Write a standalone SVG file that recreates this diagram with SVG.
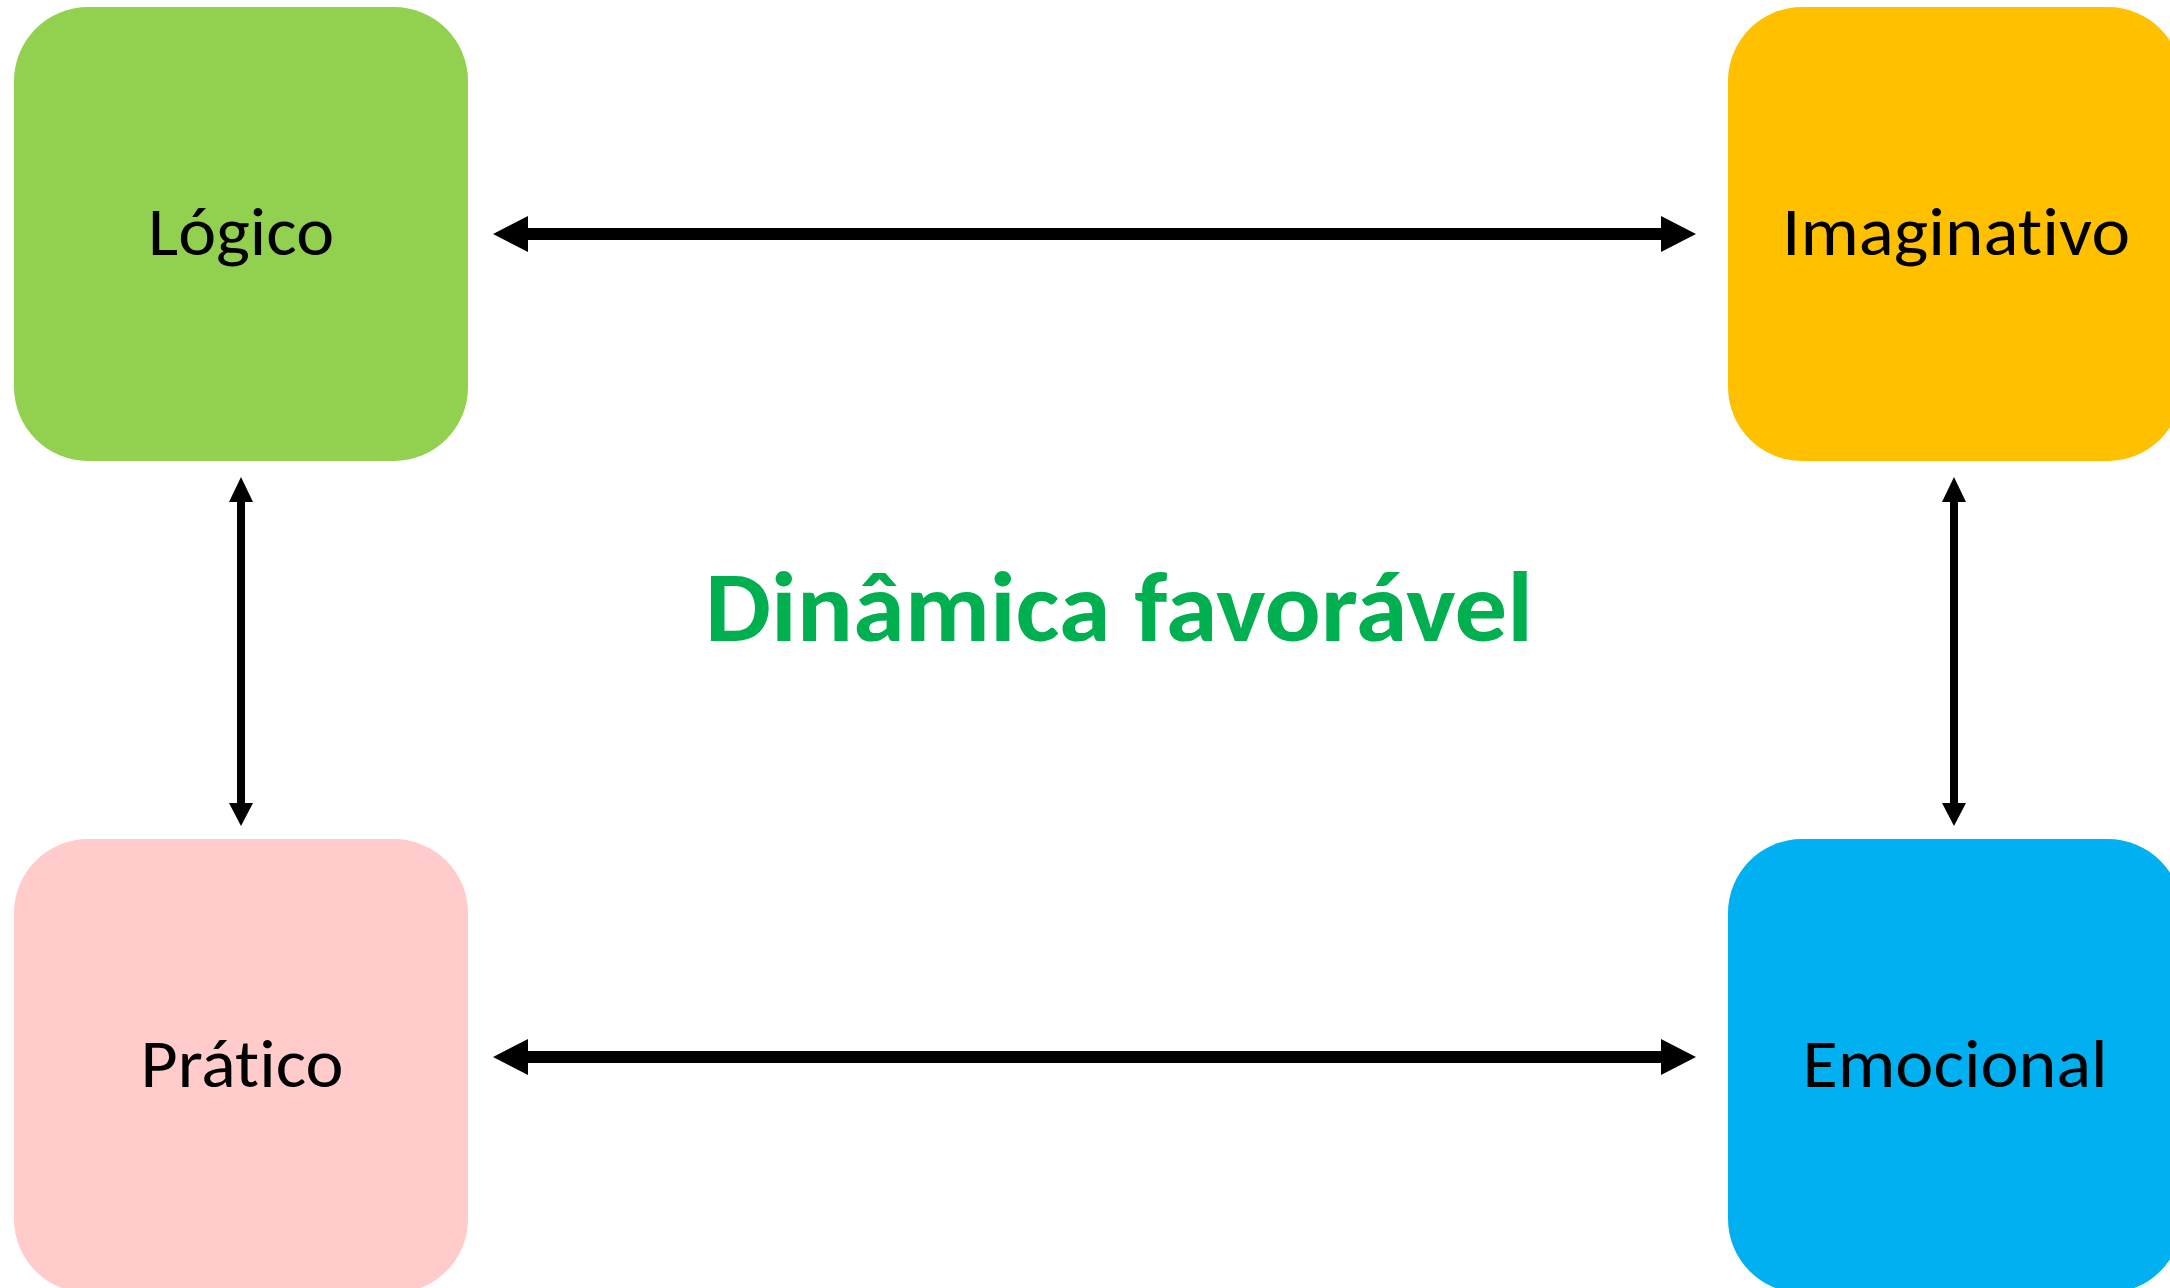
<svg xmlns="http://www.w3.org/2000/svg" width="2170" height="1288" viewBox="0 0 2170 1288">
<style>
.lbl{font-family:Carlito,Calibri,Lato,"Open Sans",sans-serif;font-size:68px;fill:#000;text-anchor:middle;font-variant-ligatures:none;font-feature-settings:"liga" 0,"dlig" 0}
.title{font-family:Carlito,Calibri,Lato,"Open Sans",sans-serif;font-size:100px;font-weight:bold;fill:#00B050;text-anchor:middle;font-variant-ligatures:none}
.arr{fill:#000}
</style>
<rect width="2170" height="1288" fill="#fff"/>
<g id="node-logico">
<rect x="14" y="7" width="454" height="454" rx="74" fill="#92D050"/>
<text class="lbl" x="241" y="255" textLength="186" lengthAdjust="spacingAndGlyphs">Lógico</text>
</g>
<g id="node-imaginativo">
<rect x="1728" y="7" width="454" height="454" rx="74" fill="#FFC000"/>
<text class="lbl" x="1956" y="255" textLength="348" lengthAdjust="spacingAndGlyphs">Imaginativo</text>
</g>
<g id="node-pratico">
<rect x="14" y="839" width="454" height="454" rx="74" fill="#FFCBCB"/>
<text class="lbl" x="242" y="1087" textLength="203" lengthAdjust="spacingAndGlyphs">Prático</text>
</g>
<g id="node-emocional">
<rect x="1728" y="839" width="454" height="454" rx="74" fill="#00B0F0"/>
<text class="lbl" x="1955" y="1087" textLength="305" lengthAdjust="spacingAndGlyphs">Emocional</text>
</g>
<g id="title">
<text class="title" x="1119" y="641" textLength="828" lengthAdjust="spacingAndGlyphs">Dinâmica favorável</text>
</g>
<g id="connectors">
<polygon class="arr" points="493,234 528,216 528,228 1661,228 1661,216 1696,234 1661,252 1661,240 528,240 528,252"/>
<polygon class="arr" points="493,1057 528,1039 528,1051 1661,1051 1661,1039 1696,1057 1661,1075 1661,1063 528,1063 528,1075"/>
<polygon class="arr" points="241,477 253,502 245,502 245,803 253,803 241,826 229,803 237,803 237,502 229,502"/>
<polygon class="arr" points="1954,477 1966,502 1958,502 1958,803 1966,803 1954,826 1942,803 1950,803 1950,502 1942,502"/>
</g>
</svg>
